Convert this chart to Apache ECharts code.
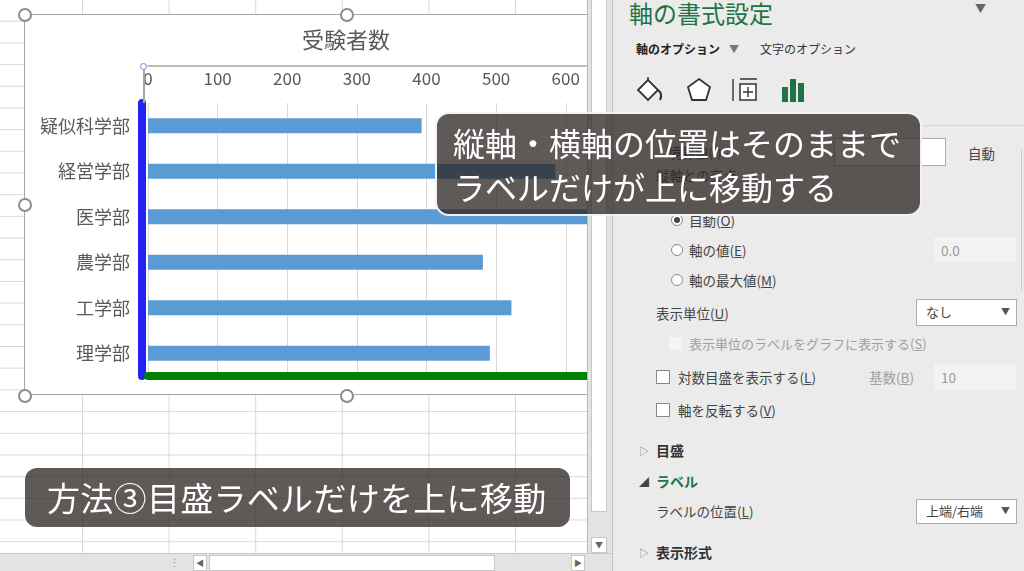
<!DOCTYPE html>
<html>
<head>
<meta charset="utf-8">
<script src="https://cdn.jsdelivr.net/npm/echarts/dist/echarts.min.js"></script>
<style>
  html, body { margin:0; padding:0; width:1024px; height:571px; overflow:hidden; background:#fff;
    font-family:'Noto Sans CJK JP','Noto Sans',sans-serif; }
  .abs { position:absolute; }
  #sheet { left:0; top:0; width:588px; height:553px; z-index:0;
    background-image:linear-gradient(to right,#d9d9d9 1px,transparent 1px),linear-gradient(to bottom,#d9d9d9 1px,transparent 1px);
    background-size:86.6px 21.7px; background-position:82px 20.7px; }
  #chartBox { left:24px; top:14px; width:700px; height:381px; background:#fff; border:1.5px solid #a6a6a6; box-sizing:border-box; z-index:1; }
  #main { left:0; top:0; width:1024px; height:571px; z-index:2; }
  .handle { width:10px; height:10px; border:2px solid #8c8c8c; border-radius:50%; background:#fff; z-index:3; }
  #vscroll { left:587px; top:0; width:25px; height:553px; background:#e3e3e3; border-left:1px solid #b8b8b8; z-index:4; }
  #hbar { left:0; top:553px; width:612px; height:18px; background:#e3e3e3; border-top:1px solid #c8c8c8; z-index:4; }
  #panel { left:612px; top:0; width:412px; height:571px; background:#ebebeb; border-left:1px solid #c6c6c6; z-index:4; color:#444; font-size:13.5px; }
  #panel .t { position:absolute; white-space:nowrap; line-height:16px; }
  .box { position:absolute; background:#fff; border:1px solid #ababab; box-sizing:border-box; }
  .dis { position:absolute; background:#f2f2f2; box-sizing:border-box; }
  .radio { position:absolute; width:12px; height:12px; border:1px solid #888; border-radius:50%; background:#fff; box-sizing:border-box; }
  .chk { position:absolute; width:14px; height:14px; border:1px solid #888; background:#fff; box-sizing:border-box; }
  .cap { position:absolute; z-index:6; color:#fff; background:rgba(45,38,35,0.76); box-sizing:border-box; white-space:nowrap; }
</style>
</head>
<body>
<div id="sheet" class="abs"></div>
<div id="chartBox" class="abs"></div>
<div id="main" class="abs"></div>

<!-- selection marks of the chart -->
<div class="abs handle" style="left:18px;top:8px"></div>
<div class="abs handle" style="left:340px;top:8px"></div>
<div class="abs handle" style="left:18px;top:198px"></div>
<div class="abs handle" style="left:18px;top:389px"></div>
<div class="abs handle" style="left:340px;top:389px"></div>
<div class="abs" style="left:143px;top:66px;width:1.5px;height:37px;background:#a6a6a6;z-index:3"></div>
<div class="abs" style="left:140px;top:63px;width:5px;height:5px;border:1px solid #5b9bd5;border-radius:50%;background:#fff;z-index:3"></div>

<!-- scroll bars -->
<div id="vscroll" class="abs">
  <div class="abs" style="left:3px;top:0;width:16px;height:512px;background:#fff;border:1px solid #c8c8c8;border-top:none;box-sizing:border-box"></div>
  <div class="abs" style="left:3px;top:537px;width:16px;height:16px;background:#fff;border:1px solid #c8c8c8;box-sizing:border-box;font-size:8px;color:#666;text-align:center;line-height:14px">▼</div>
</div>
<div id="hbar" class="abs">
  <div class="abs" style="left:169px;top:0;font-size:11px;color:#888">⋮</div>
  <div class="abs" style="left:193px;top:1px;width:14px;height:16px;background:#fff;border:1px solid #c8c8c8;box-sizing:border-box;font-size:8px;color:#666;text-align:center;line-height:14px">◀</div>
  <div class="abs" style="left:209px;top:1px;width:286px;height:16px;background:#fff;border:1px solid #c8c8c8;box-sizing:border-box"></div>
  <div class="abs" style="left:571px;top:1px;width:14px;height:16px;background:#fff;border:1px solid #c8c8c8;box-sizing:border-box;font-size:8px;color:#666;text-align:center;line-height:14px">▶</div>
</div>

<!-- format pane -->
<div id="panel" class="abs">
  <div class="t" style="left:16px;top:0;font-size:24px;line-height:26px;color:#217346">軸の書式設定</div>
  <div class="t" style="left:362px;top:0;font-size:11px;color:#666">▼</div>
  <div class="t" style="left:23px;top:41px;font-size:12px;font-weight:bold;color:#222">軸のオプション</div>
  <div class="t" style="left:116px;top:41px;font-size:10px;color:#777">▼</div>
  <div class="t" style="left:147px;top:41px;font-size:12px;color:#333">文字のオプション</div>
  <svg class="abs" style="left:22px;top:76px" width="30" height="28" viewBox="0 0 30 28">
    <path d="M3 14 L13 4 L23 14 L13 24 Z" fill="#fff" stroke="#333" stroke-width="1.8"/>
    <path d="M13 4 L13 1" stroke="#333" stroke-width="1.5"/>
    <path d="M23 14 Q28 18 25 24" fill="none" stroke="#333" stroke-width="2.2"/>
  </svg>
  <svg class="abs" style="left:72px;top:76px" width="28" height="28" viewBox="0 0 28 28">
    <path d="M14 3 L25 11 L21 24 L7 24 L3 11 Z" fill="#fff" stroke="#333" stroke-width="1.8"/>
  </svg>
  <svg class="abs" style="left:118px;top:76px" width="28" height="28" viewBox="0 0 28 28">
    <path d="M2 3 L2 25 M9 3 L26 3" stroke="#333" stroke-width="1.4"/>
    <rect x="9" y="8" width="16" height="16" fill="#fff" stroke="#333" stroke-width="1.5"/>
    <path d="M17 11 L17 21 M12 16 L22 16" stroke="#333" stroke-width="1.4"/>
  </svg>
  <svg class="abs" style="left:168px;top:77px" width="26" height="26" viewBox="0 0 26 26">
    <rect x="1" y="10" width="6" height="15" fill="#217346"/>
    <rect x="9" y="2" width="6" height="23" fill="#217346"/>
    <rect x="17" y="6" width="6" height="19" fill="#217346"/>
  </svg>
  <div class="abs" style="left:0;top:125px;width:412px;height:1px;background:#d4d4d4"></div>

  <div class="t" style="left:55px;top:144px">境界値(I)</div>
  <div class="box" style="left:221px;top:138px;width:112px;height:28px"></div>
  <div class="t" style="left:355px;top:145px">自動</div>
  <div class="abs" style="left:408px;top:150px;width:1px;height:140px;background:#c8c8c8"></div>
  <div class="t" style="left:43px;top:167px">縦軸との交点</div>
  <div class="radio" style="left:58px;top:214px"></div>
  <div class="abs" style="left:61px;top:217px;width:6px;height:6px;border-radius:50%;background:#444"></div>
  <div class="t" style="left:76px;top:212px">自動(<u>O</u>)</div>
  <div class="radio" style="left:58px;top:244px"></div>
  <div class="t" style="left:76px;top:242px">軸の値(<u>E</u>)</div>
  <div class="dis" style="left:321px;top:237px;width:82px;height:26px"></div>
  <div class="t" style="left:328px;top:242px;color:#9a9a9a">0.0</div>
  <div class="radio" style="left:58px;top:274px"></div>
  <div class="t" style="left:76px;top:272px">軸の最大値(<u>M</u>)</div>
  <div class="t" style="left:43px;top:305px">表示単位(<u>U</u>)</div>
  <div class="box" style="left:303px;top:299px;width:101px;height:27px"></div>
  <div class="t" style="left:313px;top:304px;font-size:13px">なし</div>
  <div class="t" style="left:388px;top:304px;font-size:9px;color:#555">▼</div>
  <div class="dis" style="left:56px;top:337px;width:13px;height:13px;background:#f4f4f4"></div>
  <div class="t" style="left:76px;top:336px;color:#a0a0a0;font-size:13px">表示単位のラベルをグラフに表示する(<u>S</u>)</div>
  <div class="chk" style="left:43px;top:370px"></div>
  <div class="t" style="left:65px;top:369px">対数目盛を表示する(<u>L</u>)</div>
  <div class="t" style="left:256px;top:369px;color:#a0a0a0">基数(<u>B</u>)</div>
  <div class="dis" style="left:321px;top:364px;width:82px;height:27px"></div>
  <div class="t" style="left:328px;top:369px;color:#9a9a9a">10</div>
  <div class="chk" style="left:43px;top:403px"></div>
  <div class="t" style="left:65px;top:402px">軸を反転する(<u>V</u>)</div>
  <div class="t" style="left:26px;top:443px;font-size:10px;color:#777">▷</div>
  <div class="t" style="left:43px;top:442px;font-weight:bold;font-size:14px;color:#333">目盛</div>
  <div class="t" style="left:26px;top:474px;font-size:10px;color:#444">◢</div>
  <div class="t" style="left:43px;top:473px;font-weight:bold;font-size:14px;color:#217346">ラベル</div>
  <div class="t" style="left:43px;top:503px">ラベルの位置(<u>L</u>)</div>
  <div class="box" style="left:303px;top:499px;width:101px;height:25px"></div>
  <div class="t" style="left:313px;top:503px;font-size:13px">上端/右端</div>
  <div class="t" style="left:388px;top:503px;font-size:9px;color:#555">▼</div>
  <div class="t" style="left:26px;top:545px;font-size:10px;color:#777">▷</div>
  <div class="t" style="left:43px;top:544px;font-weight:bold;font-size:14px;color:#333">表示形式</div>
</div>

<!-- captions -->
<div class="cap" style="left:435px;top:112px;width:487px;height:104px;border:2px solid #f2f2f2;border-radius:14px;padding:6px 0 0 16px;font-size:32px;line-height:44px">縦軸・横軸の位置はそのままで<br>ラベルだけが上に移動する</div>
<div class="cap" style="left:25px;top:468px;width:545px;height:59px;border-radius:12px;padding:0 0 0 22px;font-size:33px;line-height:59px;letter-spacing:0.3px">方法③目盛ラベルだけを上に移動</div>

<script>
// 受験者数（下から順に）
var departments = ['理学部', '工学部', '農学部', '医学部', '経営学部', '疑似科学部'];
var applicants = [491, 522, 481, 660, 585, 393];
// 横軸の目盛
var axisMin = 0;
var axisMax = 800;
var axisStep = 100;
var chartTitle = '受験者数';

var font = "'Noto Sans CJK JP','Noto Sans',sans-serif";
var myChart = echarts.init(document.getElementById('main'));
myChart.setOption({
    backgroundColor: 'transparent',
    animation: false,
    title: {
        text: chartTitle,
        left: 302,
        top: 29,
        padding: 0,
        textStyle: { fontSize: 22, fontWeight: 'normal', color: '#595959', fontFamily: font }
    },
    grid: { left: 148, top: 103, right: 319, bottom: 195 },
    xAxis: [
        {
            // 横軸の位置は下のまま（緑の線）
            type: 'value',
            position: 'bottom',
            min: axisMin, max: axisMax, interval: axisStep,
            axisLine: { show: true, onZero: false, lineStyle: { color: '#008000', width: 8 } },
            axisTick: { show: false },
            axisLabel: { show: false },
            splitLine: { show: true, lineStyle: { color: '#d9d9d9', width: 1 } }
        },
        {
            // ラベルだけ上端に表示
            type: 'value',
            position: 'top',
            offset: 37,
            min: axisMin, max: axisMax, interval: axisStep,
            axisLine: { show: true, onZero: false, lineStyle: { color: '#a6a6a6', width: 1.5 } },
            axisTick: { show: false },
            axisLabel: { inside: true, margin: 4, fontSize: 17, color: '#595959', fontFamily: font },
            splitLine: { show: false }
        }
    ],
    yAxis: {
        type: 'category',
        data: departments,
        offset: 6,
        axisLine: { show: true, onZero: false, lineStyle: { color: '#2323f0', width: 8 } },
        axisTick: { show: false },
        axisLabel: { margin: 12, fontSize: 18, color: '#595959', fontFamily: font }
    },
    series: [{
        name: chartTitle,
        type: 'bar',
        xAxisIndex: 0,
        data: applicants,
        barWidth: 15,
        itemStyle: { color: '#5b9bd5' }
    }]
});
</script>
</body>
</html>
